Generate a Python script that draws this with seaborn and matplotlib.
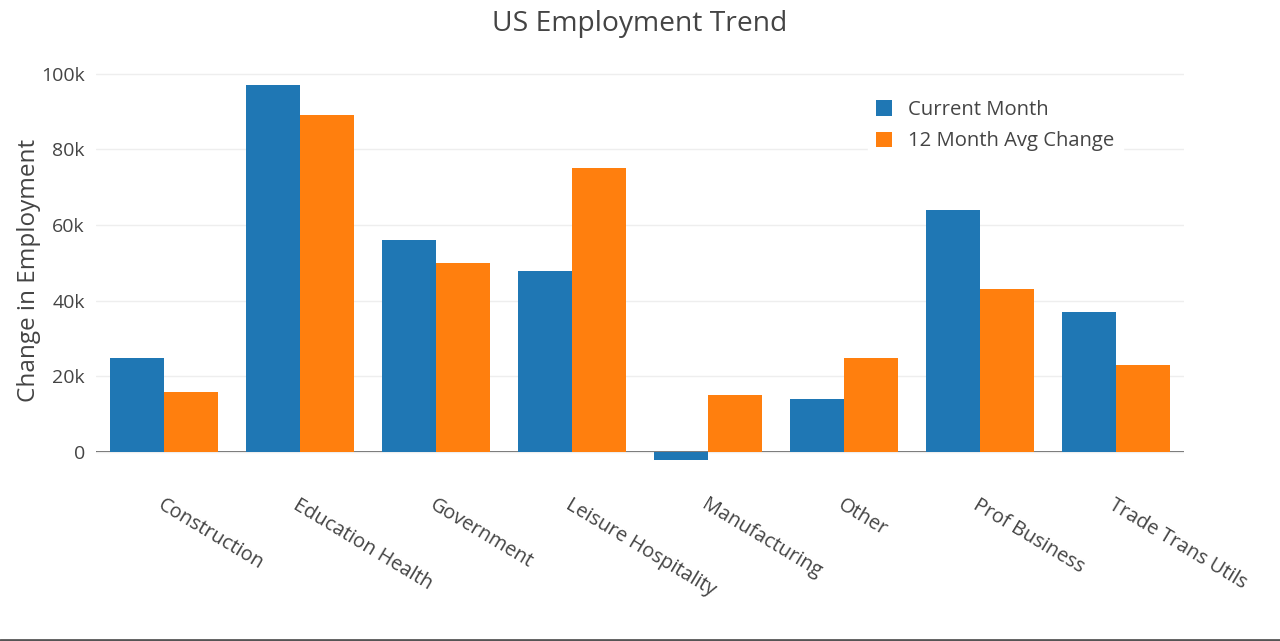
import pandas as pd
import numpy as np
import matplotlib.pyplot as plt
import matplotlib.lines as mlines
import seaborn as sns

# data
sectors = ['Construction', 'Education Health', 'Government', 'Leisure Hospitality',
           'Manufacturing', 'Other', 'Prof Business', 'Trade Trans Utils']
current_month = [25000, 97000, 56000, 48000, -2000, 14000, 64000, 37000]
avg_12_month = [16000, 89000, 50000, 75000, 15000, 25000, 43000, 23000]
series_names = ['Current Month', '12 Month Avg Change']

df = pd.DataFrame({
    'sector': sectors * 2,
    'change': current_month + avg_12_month,
    'series': [series_names[0]] * len(sectors) + [series_names[1]] * len(sectors),
})

sns.set_style('white')
plt.rcParams['font.family'] = ['Open Sans', 'DejaVu Sans']
text_color = '#444444'

fig = plt.figure(figsize=(12.8, 6.41), dpi=100)
ax = fig.add_axes([0.075, 0.265, 0.85, 0.626])

sns.barplot(data=df, x='sector', y='change', hue='series',
            palette=['#1f77b4', '#ff7f0e'], width=0.8, saturation=1,
            ax=ax, legend=True)
for p in ax.patches:
    p.set_linewidth(0)

ax.set_ylim(-5000, 101000)
ax.set_yticks([0, 20000, 40000, 60000, 80000, 100000])
ax.set_yticklabels(['0', '20k', '40k', '60k', '80k', '100k'])
ax.yaxis.grid(True, color='#eeeeee', linewidth=1)
ax.set_axisbelow(True)
ax.axhline(0, color='#444444', linewidth=1.2, zorder=0.5)
for s in ax.spines.values():
    s.set_visible(False)
ax.tick_params(axis='both', length=0, labelsize=14, colors=text_color, pad=8)

ax.set_xlabel('')
ax.set_ylabel('Change in Employment', fontsize=17.5, color=text_color, labelpad=0)
plt.setp(ax.get_xticklabels(), rotation=-31, ha='left', va='top',
         rotation_mode='anchor', fontsize=14.3)
ax.tick_params(axis='x', pad=17)

fig.suptitle('US Employment Trend', fontsize=20.3, color=text_color, y=0.985)

handles, labels = ax.get_legend_handles_labels()
ax.legend(handles=handles, labels=labels, loc='upper left',
          bbox_to_anchor=(0.70, 0.97), frameon=True, facecolor='white',
          edgecolor='white', framealpha=1, fontsize=14.6,
          labelcolor=text_color, handlelength=0.8, handleheight=0.8,
          handletextpad=0.8, borderpad=0.4, labelspacing=0.55)

# thin dark rule along the bottom edge of the image
fig.add_artist(mlines.Line2D([0, 1], [0.002, 0.002], color='#555555',
                             linewidth=2, transform=fig.transFigure))

fig.savefig('out.png', dpi=100, facecolor='white')
